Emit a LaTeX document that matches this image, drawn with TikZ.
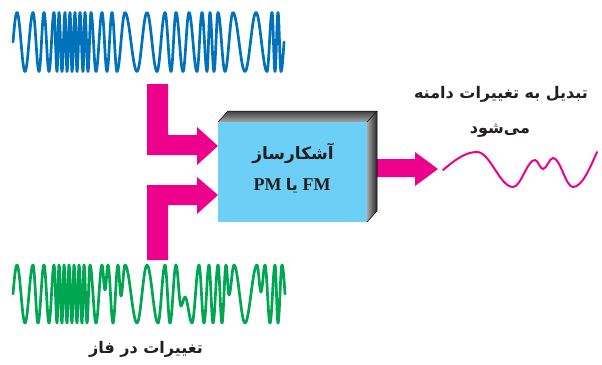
\documentclass[tikz,border=0pt]{standalone}
\usepackage{fontspec}
\setmainfont{Liberation Serif}
\newfontfamily\arabicfont[Script=Arabic]{DejaVu Sans}
\TeXXeTstate=1
\definecolor{wblue}{HTML}{0072BC}
\definecolor{wgreen}{HTML}{00A651}
\definecolor{wpink}{HTML}{EC008C}
\definecolor{boxblue}{HTML}{6DCFF6}
\definecolor{txt}{HTML}{231F20}
\tikzset{
  wave/.style={line width=2.7pt, line cap=round, line join=round},
  pinkarrow/.style={fill=wpink},
  fatxt/.style={text=txt, font=\arabicfont\bfseries\fontsize{16}{19}\selectfont, inner sep=0pt},
  latxt/.style={text=txt, font=\bfseries\fontsize{18}{21}\selectfont, inner sep=0pt},
}
\begin{document}
\begin{tikzpicture}[x=1pt,y=-1pt]
\useasboundingbox (0,0) rectangle (602,364);
% blue FM wave
\draw[wave, wblue] (13,42) sin (17,12.5)
  \foreach \x/\y [remember=\x as \px (initially 17), remember=\y as \py (initially 12.5)] in
  {25/71.5, 33/12.5, 39/71.5, 44/12.5, 49/71.5, 54/12.5, 57/71.5, 59/12.5, 62/71.5, 65/12.5,
   67/71.5, 70/12.5, 72/71.5, 75/12.5, 77/71.5, 80/12.5, 83/71.5, 85/12.5, 88/71.5, 91/12.5,
   96/71.5, 102/12.5, 107/71.5, 112/12.5, 117/71.5, 125/12.5, 137/71.5, 147/12.5, 157/71.5,
   165/12.5, 171/71.5, 176/12.5, 183/71.5, 189/12.5, 197/71.5, 202/12.5, 207/71.5, 210/12.5,
   214/71.5, 218/12.5, 225/71.5, 233/12.5, 245/71.5, 256/12.5, 267/71.5, 272/12.5, 275/71.5,
   278/12.5, 281/71.5}
  { cos ({(\px+\x)/2},{(\py+\y)/2}) sin (\x,\y) } cos (284,42);
% green PM wave
\draw[wave, wgreen] (13,294) sin (17,265)
  \foreach \x/\y [remember=\x as \px (initially 17), remember=\y as \py (initially 265)] in
  {25/323, 33/265, 38/323, 44/265, 49/323, 54/265, 57/323, 59/265, 62/323, 64/265, 67/323,
   69/265, 72/323, 74/265, 77/323, 79/265, 82/323, 84/265, 87/323, 90/265, 96/323, 102/265,
   105/290, 108/265, 113/323, 118/265, 121/296, 125/265, 137/323, 147/265, 158/323, 165/265,
   170/323, 176/265, 181/306, 185/297, 192/323, 199/265, 204/323, 209/265, 213/323, 218/265,
   222/323, 226/265, 229/295, 234/265, 245/323, 257/265, 261/292, 265/265, 270/323, 275/265,
   278/323, 282/265}
  { cos ({(\px+\x)/2},{(\py+\y)/2}) sin (\x,\y) } cos (285,294);
% pink arrows
\fill[pinkarrow] (147,84) -- (168,84) -- (168,135) -- (197,135) -- (197,127) -- (218,146)
  -- (197,165) -- (197,155) -- (147,155) -- cycle;
\fill[pinkarrow] (147,260) -- (147,185) -- (197,185) -- (197,177) -- (218,195) -- (197,214)
  -- (197,205) -- (168,205) -- (168,260) -- cycle;
\fill[pinkarrow] (372,159) -- (415,159) -- (415,152) -- (438,169) -- (415,186) -- (415,177)
  -- (372,177) -- cycle;
% box
\shade[top color=black!75, bottom color=black!35] (218,122) -- (228,111) -- (377,111) -- (367,122) -- cycle;
\shade[left color=black!35, right color=black!85] (367,122) -- (377,111) -- (377,211) -- (367,222) -- cycle;
\draw[black, line width=0.5pt] (218,122) -- (228,111) -- (377,111) -- (377,211) -- (367,222);
\draw[black, line width=0.5pt] (367,122) -- (377,111);
\node[fill=boxblue, minimum width=149pt, minimum height=100pt, inner sep=0pt] (det) at (292.5,172) {};
\node[fatxt, font=\arabicfont\bfseries\fontsize{17}{20}\selectfont] (t1) at (293,153) {\beginR آشکارساز\endR};
\node[latxt] (t2) at (292,186) {PM {\arabicfont\fontsize{16}{19}\selectfont\beginR یا\endR} FM};
% output wave
\draw[wpink, line width=2pt, line cap=round] (443,170) sin (477,152) cos (495,169.5) sin (513,187)
  cos (524,173.5) sin (535,160) cos (539,164.5) sin (543,169) cos (548,163.5) sin (553,158)
  cos (563,172.5) sin (573,187) cos (597,152);
% labels
\node[fatxt] (l1) at (501,94) {\beginR تبدیل به تغییرات دامنه\endR};
\node[fatxt] (l2) at (500,131) {\beginR می‌شود\endR};
\node[fatxt] (l3) at (146,349) {\beginR تغییرات در فاز\endR};
\end{tikzpicture}
\end{document}
